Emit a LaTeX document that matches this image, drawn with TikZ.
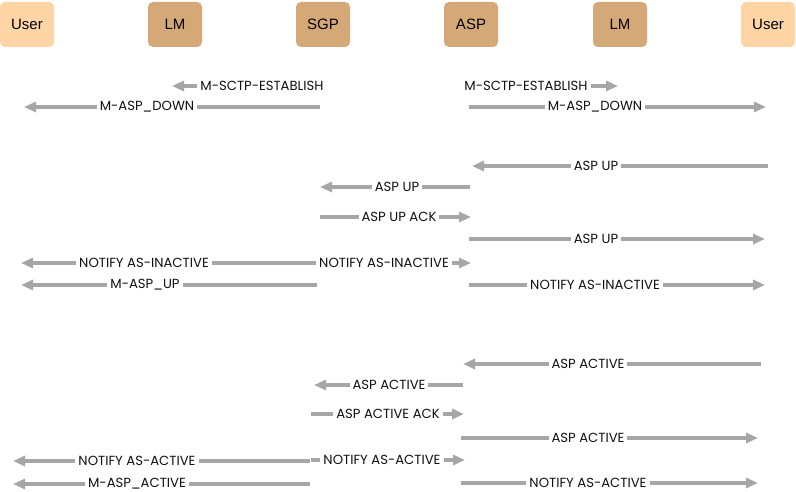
\documentclass[tikz,border=0pt]{standalone}
\usepackage{fontspec}
\setmainfont{Poppins}
\newfontfamily\hdrfont{Liberation Sans}
\usetikzlibrary{arrows.meta}
\definecolor{userc}{HTML}{FFD5A6}
\definecolor{tanc}{HTML}{D5A877}
\definecolor{arrc}{HTML}{A6A6A6}
\definecolor{txtc}{HTML}{111111}
% #1 name, #2 x start, #3 x end, #4 y, #5 label x, #6 text
\newcommand\msgline[6]{%
  \coordinate (#1s) at (#2,#4);
  \coordinate (#1e) at (#3,#4);
  \draw[msg] (#1s) -- (#1e);
  \node[lbl] (#1l) at (#5,#4) {#6};
}
\begin{document}
\begin{tikzpicture}[x=1pt,y=-1pt,
  hdr/.style={rounded corners=5pt, minimum width=54pt, minimum height=45pt,
    font=\hdrfont\fontsize{15}{18}\selectfont, inner sep=0pt, text=black},
  usr/.style={hdr, fill=userc},
  ent/.style={hdr, fill=tanc},
  msg/.style={draw=arrc, line width=3.2pt, -{Triangle[length=12pt,width=10pt]}},
  lbl/.style={fill=white, inner sep=0pt, inner xsep=3pt, inner ysep=1pt,
    font=\fontsize{13.2}{16}\selectfont, text=txtc}]
\useasboundingbox (0,0) rectangle (796,492);
\node[usr] (user1) at (27,24.5) {User};
\node[ent] (lm1) at (175,24.5) {LM};
\node[ent] (sgp) at (323,24.5) {SGP};
\node[ent] (asp) at (471,24.5) {ASP};
\node[ent] (lm2) at (620,24.5) {LM};
\node[usr] (user2) at (768,24.5) {User};

\msgline{la}{198}{172}{86}{262}{M-SCTP-ESTABLISH}
\msgline{ra}{590}{618}{86}{526}{M-SCTP-ESTABLISH}
\msgline{lb}{320}{24}{107}{147}{M-ASP\_DOWN}
\msgline{rb}{469}{766}{107}{595}{M-ASP\_DOWN}

\msgline{rc}{768}{472}{166}{596}{ASP UP}
\msgline{ld}{470}{320}{187}{397}{ASP UP}
\msgline{le}{320}{471}{217}{399}{ASP UP ACK}
\msgline{rf}{469}{765}{239}{596}{ASP UP}
\msgline{lg}{317}{21}{263}{144}{NOTIFY AS-INACTIVE}
\msgline{mg}{317}{471}{263}{384}{NOTIFY AS-INACTIVE}
\msgline{lh}{317}{21}{285}{145}{M-ASP\_UP}
\msgline{rh}{469}{765}{285}{595}{NOTIFY AS-INACTIVE}

\msgline{ri}{761}{463}{364}{588}{ASP ACTIVE}
\msgline{lj}{463}{314}{385}{389}{ASP ACTIVE}
\msgline{lk}{311}{464}{414}{388}{ASP ACTIVE ACK}
\msgline{rl}{461}{758}{438}{588}{ASP ACTIVE}
\msgline{lm}{310}{13}{461}{137}{NOTIFY AS-ACTIVE}
\msgline{mm}{311}{465}{460}{382}{NOTIFY AS-ACTIVE}
\msgline{ln}{310}{13}{484}{137}{M-ASP\_ACTIVE}
\msgline{rn}{461}{758}{483}{588}{NOTIFY AS-ACTIVE}
\end{tikzpicture}
\end{document}
